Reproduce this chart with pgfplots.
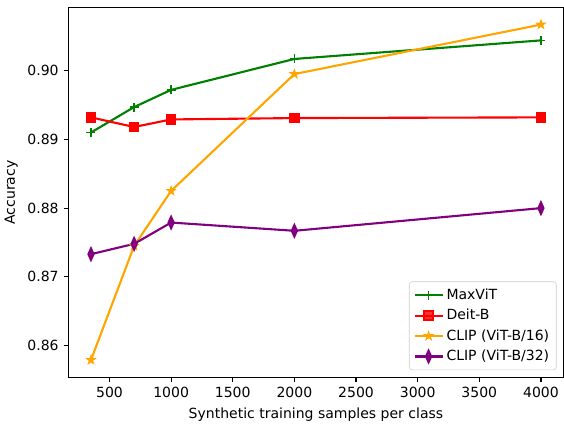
\documentclass[border=0pt]{standalone}
\usepackage{pgfplots}
\pgfplotsset{compat=1.18}
\usepackage{fontspec}
\setmainfont{DejaVu Sans}

\definecolor{mgreen}{RGB}{0,128,0}
\definecolor{mred}{RGB}{255,0,0}
\definecolor{morange}{RGB}{255,165,0}
\definecolor{mpurple}{RGB}{128,0,128}

% filled five-pointed star
\pgfdeclareplotmark{fstar}{%
  \pgfpathmoveto{\pgfqpointpolar{90}{\pgfplotmarksize}}%
  \pgfpathlineto{\pgfqpointpolar{126}{0.382\pgfplotmarksize}}%
  \pgfpathlineto{\pgfqpointpolar{162}{\pgfplotmarksize}}%
  \pgfpathlineto{\pgfqpointpolar{198}{0.382\pgfplotmarksize}}%
  \pgfpathlineto{\pgfqpointpolar{234}{\pgfplotmarksize}}%
  \pgfpathlineto{\pgfqpointpolar{270}{0.382\pgfplotmarksize}}%
  \pgfpathlineto{\pgfqpointpolar{306}{\pgfplotmarksize}}%
  \pgfpathlineto{\pgfqpointpolar{342}{0.382\pgfplotmarksize}}%
  \pgfpathlineto{\pgfqpointpolar{18}{\pgfplotmarksize}}%
  \pgfpathlineto{\pgfqpointpolar{54}{0.382\pgfplotmarksize}}%
  \pgfpathclose
  \pgfusepathqfillstroke}

\begin{document}
\begin{tikzpicture}
\begin{axis}[
  name=main,
  scale only axis,
  width=352bp, height=263bp,
  xmin=167.5, xmax=4182.5,
  ymin=0.85535, ymax=0.90915,
  xtick={500,1000,...,4000},
  ytick={0.86,0.87,0.88,0.89,0.90},
  /pgf/number format/assume math mode=true,
  yticklabel style={/pgf/number format/.cd, fixed, fixed zerofill, precision=2},
  xticklabel style={/pgf/number format/.cd, fixed, 1000 sep={}},
  scaled y ticks=false,
  tick align=outside,
  tick pos=left,
  major tick length=3.5bp,
  every tick/.style={black, line width=0.8bp},
  axis line style={line width=0.8bp},
  ticklabel style={font=\fontsize{10}{12}\selectfont},
  label style={font=\fontsize{10}{12}\selectfont},
  xlabel={Synthetic training samples per class},
  ylabel={Accuracy},
  legend style={at={(0.986,0.02)}, anchor=south east, draw=black!20, rounded corners=2bp,
    fill=white, fill opacity=0.8, text opacity=1, font=\fontsize{10}{12}\selectfont,
    inner sep=3bp, row sep=1.5bp},
  legend cell align=left,
  legend image code/.code={%
    \draw[mark repeat=2, mark phase=2] plot coordinates {(0bp,0bp) (10bp,0bp) (20bp,0bp)};},
  every axis plot/.append style={line width=1.5bp},
]
\addplot[color=mgreen, mark=+, mark size=3.2bp, mark options={line width=1.2bp}]
  coordinates {(350,0.8910) (700,0.8947) (1000,0.8972) (2000,0.9017) (4000,0.9044)};
\addlegendentry{MaxViT}
\addplot[color=mred, mark=square*, mark size=3bp, mark options={fill=mred}]
  coordinates {(350,0.8932) (700,0.8918) (1000,0.8929) (2000,0.8931) (4000,0.8932)};
\addlegendentry{Deit-B}
\addplot[color=morange, mark=fstar, mark size=3.3bp, mark options={fill=morange, line width=0.6bp}]
  coordinates {(350,0.8579) (700,0.8745) (1000,0.8825) (2000,0.8995) (4000,0.9067)};
\addlegendentry{CLIP (ViT-B/16)}
\addplot[color=mpurple, mark=diamond*, mark size=4bp, mark options={fill=mpurple, xscale=0.6}]
  coordinates {(350,0.8733) (700,0.8748) (1000,0.8779) (2000,0.8767) (4000,0.8800)};
\addlegendentry{CLIP (ViT-B/32)}
\end{axis}
\path ([yshift=5.5bp]main.north);
\end{tikzpicture}
\end{document}
